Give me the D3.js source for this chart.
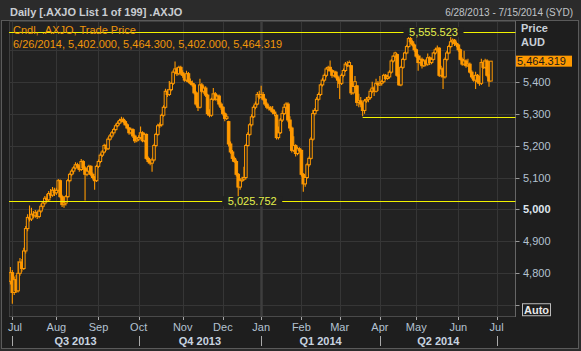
<!DOCTYPE html>
<html><head><meta charset="utf-8">
<script src="https://cdn.jsdelivr.net/npm/d3@7"></script>
<style>html,body{margin:0;padding:0;background:#2b2b2b;overflow:hidden}svg{display:block}</style>
</head><body><svg id="c" width="581" height="351"></svg>
<script>
const startDate = "2013-06-28", endDate = "2014-07-15";
const holidays = ["2013-12-25","2013-12-26","2014-01-01","2014-01-27","2014-04-18","2014-04-21","2014-04-25","2014-06-09"];

const opens = [4775,4802,4740,4780,4745,4800,4835,4815,4870,4940,4975,4970,4985,4980,4990,4978,4995,5010,5020,5035,5030,5050,5045,5060,
5052,5060,5090,5040,5015,5020,5040,5090,5110,5120,5130,5140,5135,5125,5150,5130,5110,5120,5135,5110,5100,5090,
5135,5150,5170,5180,5200,5190,5220,5230,5240,5250,5262,5270,5278,5282,5275,5265,5255,5240,5250,5230,5215,
5220,5225,5240,5215,5235,5160,5150,5145,5155,5200,5235,5262,5265,5295,5320,5370,5360,5375,5395,5430,5440,5425,5445,
5428,5420,5405,5425,5400,5395,5390,5365,5330,5320,5390,5370,5380,5358,5300,5295,5345,5362,5345,5355,5330,
5320,5300,5285,5275,5205,5180,5160,5150,5110,5070,5090,5095,5100,5200,5235,5265,5290,5320,5330,5360,
5352,5360,5345,5330,5320,5318,5312,5305,5295,5225,5240,5280,5300,5320,5330,5280,5255,5185,5200,5175,5190,
5185,5110,5080,5100,5140,5160,5220,5300,5310,5345,5360,5390,5405,5420,5440,5445,5435,5420,5430,5415,
5405,5395,5420,5435,5455,5450,5450,5365,5385,5387,5335,5340,5330,5310,5340,5345,5350,5370,5380,5370,5395,
5390,5395,5400,5420,5410,5415,5430,5465,5480,5485,5420,5390,5445,5470,5490,5510,5535,5525,5515,
5500,5480,5460,5470,5450,5465,5455,5475,5460,5470,5490,5500,5505,5420,5440,5415,5470,5490,5510,5525,5530,5520,
5515,5500,5470,5455,5465,5450,5455,5430,5415,5405,5420,5400,5395,5460,5445,5465,5420,5402];
const highs = [4820,4810,4790,4795,4838,4848,4845,4880,4948,4985,5012,5005,4995,4998,4996,5000,5018,5026,5042,5048,5058,5064,5070,5068,
5068,5095,5094,5046,5028,5045,5095,5115,5126,5135,5148,5146,5140,5158,5155,5135,5126,5140,5138,5116,5105,5140,
5156,5176,5186,5206,5205,5226,5236,5246,5256,5268,5276,5284,5290,5288,5280,5270,5258,5256,5254,5235,5226,
5232,5260,5245,5240,5238,5166,5158,5162,5206,5240,5268,5272,5300,5326,5378,5376,5402,5400,5436,5463,5446,5450,5450,
5436,5426,5434,5430,5410,5404,5396,5370,5336,5409,5396,5387,5386,5362,5314,5350,5380,5368,5360,5360,5336,
5324,5306,5298,5278,5213,5186,5166,5156,5114,5098,5102,5134,5206,5242,5270,5298,5326,5338,5368,5372,
5387,5368,5350,5336,5326,5324,5324,5312,5300,5260,5286,5310,5330,5336,5336,5292,5260,5229,5204,5196,5195,
5188,5114,5106,5146,5166,5226,5312,5318,5352,5366,5394,5412,5426,5446,5450,5466,5440,5436,5434,5420,
5410,5426,5441,5462,5464,5466,5452,5392,5418,5390,5362,5352,5336,5346,5352,5356,5377,5400,5386,5409,5402,
5418,5406,5425,5424,5422,5436,5470,5484,5494,5488,5424,5450,5475,5494,5516,5541,5555.523,5530,5520,
5504,5486,5482,5476,5470,5470,5488,5480,5476,5494,5506,5513,5508,5450,5445,5476,5497,5516,5544,5535,5534,5526,
5519,5504,5476,5497,5470,5472,5460,5436,5420,5431,5424,5418,5472,5466,5472,5470,5424,5464.3];
const lows = [4765,4705,4732,4738,4740,4792,4805,4810,4862,4932,4962,4964,4972,4974,4970,4972,4990,5002,5015,5022,5026,5036,5040,5042,
5045,5055,5035,5008,5005,5012,5036,5085,5104,5112,5125,5128,5118,5120,5125,5028,5104,5114,5104,5094,5062,5086,
5130,5145,5164,5175,5184,5186,5215,5224,5234,5245,5257,5265,5272,5270,5262,5250,5234,5235,5224,5208,5210,
5214,5220,5210,5210,5155,5144,5138,5118,5150,5195,5230,5255,5260,5290,5316,5352,5355,5370,5390,5424,5418,5420,5420,
5412,5400,5400,5396,5390,5384,5360,5325,5308,5316,5364,5362,5352,5294,5289,5290,5340,5340,5338,5322,5312,
5294,5276,5280,5197,5174,5150,5146,5103,5025.752,5062,5086,5090,5094,5196,5230,5260,5286,5314,5326,5345,
5348,5340,5324,5314,5310,5306,5298,5292,5219,5219,5236,5274,5296,5314,5273,5245,5178,5180,5166,5170,5178,
5103,5055,5071,5096,5134,5156,5215,5294,5306,5340,5355,5385,5400,5414,5432,5430,5412,5414,5410,5380,
5346,5390,5414,5430,5446,5445,5358,5360,5378,5324,5320,5320,5292,5300,5334,5336,5344,5364,5355,5366,5371,
5387,5388,5396,5405,5406,5410,5426,5460,5474,5415,5387,5386,5440,5466,5486,5506,5518,5510,5494,
5474,5434,5454,5441,5446,5448,5450,5452,5455,5466,5485,5494,5415,5414,5377,5410,5464,5486,5505,5516,5512,5508,
5494,5466,5450,5450,5444,5446,5426,5409,5400,5377,5394,5387,5390,5440,5440,5414,5384,5402];
const closes = [4802,4740,4780,4745,4800,4835,4815,4870,4940,4975,4970,4985,4980,4990,4978,4995,5010,5020,5035,5030,5050,5045,5060,5052,
5060,5090,5040,5015,5020,5040,5090,5110,5120,5130,5140,5135,5125,5150,5130,5110,5120,5135,5110,5100,5090,5135,
5150,5170,5180,5200,5190,5220,5230,5240,5250,5262,5270,5278,5282,5275,5265,5255,5240,5250,5230,5215,5220,
5225,5240,5215,5235,5160,5150,5145,5155,5200,5235,5262,5265,5295,5320,5370,5360,5375,5395,5430,5440,5425,5445,5428,
5420,5405,5425,5400,5395,5390,5365,5330,5320,5390,5370,5380,5358,5300,5295,5345,5362,5345,5355,5330,5320,
5300,5285,5290,5205,5180,5160,5150,5110,5070,5090,5095,5100,5200,5235,5265,5290,5320,5330,5360,5352,
5360,5345,5330,5320,5318,5312,5305,5300,5225,5240,5280,5300,5320,5330,5280,5255,5185,5200,5175,5190,5185,
5110,5080,5100,5140,5160,5220,5300,5310,5345,5360,5390,5405,5420,5440,5445,5435,5420,5430,5415,5405,
5395,5420,5435,5455,5450,5460,5365,5385,5400,5335,5340,5330,5310,5340,5345,5350,5370,5380,5370,5395,5390,
5395,5400,5420,5410,5415,5430,5465,5480,5490,5420,5390,5445,5470,5490,5510,5535,5525,5515,5500,
5480,5460,5470,5450,5465,5455,5475,5460,5470,5490,5500,5505,5420,5440,5415,5470,5490,5510,5525,5530,5520,5515,
5500,5470,5455,5465,5450,5455,5430,5415,5405,5420,5400,5395,5460,5445,5465,5420,5402,5464.319];

const yTicks = [4800, 4900, 5000, 5100, 5200, 5300, 5400];
const gridLevels = [4700, 4800, 4900, 5000, 5100, 5200, 5300, 5400, 5500];
const autoLevel = 4700;
const quarterLabels = ["Q3 2013", "Q4 2013", "Q1 2014", "Q2 2014"];
const maxLevel = 5555.523, minLevel = 5025.752, supportLevel = 5291, supportStart = "2014-03-19";
const lastClose = 5464.319;
const titleText = "Daily [.AXJO List 1 of 199] .AXJO";
const rangeText = "6/28/2013 - 7/15/2014 (SYD)";
const legend1 = "Cndl, .AXJO, Trade Price";
const legend2 = "6/26/2014, 5,402.000, 5,464.300, 5,402.000, 5,464.319";

const fmtD = d3.timeFormat("%Y-%m-%d");
const hol = new Set(holidays);
const allDays = d3.timeDay.range(new Date(2013,5,28), new Date(2014,6,16))
  .filter(d => d.getDay() > 0 && d.getDay() < 6 && !hol.has(fmtD(d)));
const dayKeys = allDays.map(fmtD);

const svg = d3.select("#c");
const FONT = "'Liberation Sans', Arial, sans-serif";
const L = 9, R = 515.5, T = 21, B = 316;
const ORANGE = "#ff9900";

const x = d3.scalePoint().domain(dayKeys).range([10.4, 515.8]);
const y = d3.scaleLinear().domain([4800, 5400]).range([273.3, 81.7]);

// backgrounds
svg.append("rect").attr("width",581).attr("height",351).attr("fill","#2b2b2b");
svg.append("rect").attr("x",1.5).attr("y",20.5).attr("width",577).attr("height",328)
  .attr("fill","#1e1e1e").attr("stroke","#5a5a5a").attr("stroke-width",1);
svg.append("rect").attr("x",L).attr("y",T).attr("width",R-L).attr("height",B-T).attr("fill","#222222");

// month boundaries
const monthIdx = [];
allDays.forEach((d,i)=>{ if(i>0 && d.getMonth()!==allDays[i-1].getMonth()) monthIdx.push(i); });
const gridG = svg.append("g");
gridG.selectAll("line.h").data(gridLevels).join("line")
  .attr("x1",L).attr("x2",R).attr("y1",d=>Math.round(y(d))+0.5).attr("y2",d=>Math.round(y(d))+0.5)
  .attr("stroke","#363636").attr("stroke-width",1);
gridG.selectAll("line.v").data(monthIdx).join("line")
  .attr("x1",i=>Math.round(x(dayKeys[i]))+0.5).attr("x2",i=>Math.round(x(dayKeys[i]))+0.5)
  .attr("y1",T).attr("y2",B)
  .attr("stroke",i=>allDays[i].getMonth()===0?"#3e3e3e":"#363636")
  .attr("stroke-width",i=>allDays[i].getMonth()===0?2.5:1);

// plot border
svg.append("path").attr("d",`M${L+0.5},${B}V${T+0.5}H${R}`).attr("fill","none").attr("stroke","#3e3e3e");
svg.append("line").attr("x1",L).attr("x2",R).attr("y1",B+0.5).attr("y2",B+0.5).attr("stroke","#4a4a4a");
svg.append("line").attr("x1",R).attr("x2",R).attr("y1",T).attr("y2",B+1).attr("stroke","#666");

// candles
svg.append("clipPath").attr("id","clip").append("rect").attr("x",L).attr("y",T).attr("width",R-L).attr("height",B-T);
const cg = svg.append("g").attr("clip-path","url(#clip)");
const candles = closes.map((c,i)=>({k:dayKeys[i],o:opens[i],h:highs[i],l:lows[i],c}));
cg.selectAll("line.w").data(candles).join("line")
  .attr("x1",d=>x(d.k)).attr("x2",d=>x(d.k))
  .attr("y1",d=>y(d.h)).attr("y2",d=>y(d.l))
  .attr("stroke",ORANGE).attr("stroke-width",1.1);
cg.selectAll("rect.b").data(candles).join("rect")
  .attr("x",d=>x(d.k)-1.3).attr("width",2.6)
  .attr("y",d=>y(Math.max(d.o,d.c))).attr("height",d=>Math.max(0.8,Math.abs(y(d.o)-y(d.c))))
  .attr("fill",d=>d.c>=d.o?"#222":ORANGE).attr("stroke",ORANGE).attr("stroke-width",1);

// level lines
const YEL = "#f2f200", YELT = "#e4f04c";
function levelLine(v, x1, labelCx){
  svg.append("line").attr("x1",x1).attr("x2",R).attr("y1",Math.round(y(v))+0.5).attr("y2",Math.round(y(v))+0.5)
    .attr("stroke",YEL).attr("stroke-width",1);
  if(labelCx!=null){
    const txt = d3.format(",.3f")(v);
    svg.append("rect").attr("x",labelCx-30).attr("y",y(v)-5).attr("width",60).attr("height",10).attr("fill","#222");
    svg.append("text").attr("x",labelCx).attr("y",y(v)+4).attr("text-anchor","middle")
      .attr("font-family",FONT).attr("font-size",11).attr("fill",YELT).text(txt);
  }
}
const maxIdx = highs.indexOf(d3.max(highs));
const minIdx = lows.indexOf(d3.min(lows.slice(60)) );
levelLine(maxLevel, L, x(dayKeys[maxIdx]) + 23);
levelLine(minLevel, L, x(dayKeys[minIdx]) + 14);
levelLine(supportLevel, x(supportStart), null);

// legend
svg.append("text").attr("x",13).attr("y",34).attr("font-family",FONT).attr("font-size",11).attr("fill","#f0960a").text(legend1);
svg.append("text").attr("x",13).attr("y",47.5).attr("font-family",FONT).attr("font-size",11).attr("fill","#f0960a").text(legend2);

// header
svg.append("text").attr("x",10).attr("y",16).attr("font-family",FONT).attr("font-size",11).attr("font-weight","bold").attr("fill","#c9cdd2").text(titleText);
svg.append("text").attr("x",573).attr("y",16).attr("text-anchor","end").attr("font-family",FONT).attr("font-size",10).attr("fill","#c0c4c8").text(rangeText);

// right axis
svg.append("text").attr("x",521).attr("y",32).attr("font-family",FONT).attr("font-size",11).attr("font-weight","bold").attr("fill","#c8d0d8").text("Price");
svg.append("text").attr("x",521).attr("y",46).attr("font-family",FONT).attr("font-size",11).attr("font-weight","bold").attr("fill","#c8d0d8").text("AUD");
const ax = svg.append("g");
ax.selectAll("line").data(yTicks.concat([autoLevel])).join("line")
  .attr("x1",R).attr("x2",R+4).attr("y1",d=>Math.round(y(d))+0.5).attr("y2",d=>Math.round(y(d))+0.5).attr("stroke","#999");
ax.selectAll("text").data(yTicks).join("text")
  .attr("x",523).attr("y",d=>y(d)+4).attr("font-family",FONT).attr("font-size",11)
  .attr("font-weight",d=>d===5000?"bold":"normal")
  .attr("fill",d=>d===5000?"#dfe6ee":"#b4c2d2").text(d=>d3.format(",")(d));
svg.append("rect").attr("x",516).attr("y",y(lastClose)-5.5).attr("width",56).attr("height",11).attr("fill",ORANGE);
svg.append("text").attr("x",517).attr("y",y(lastClose)+4).attr("font-family",FONT).attr("font-size",11).attr("fill","#1a1a1a").text(d3.format(",.3f")(lastClose));
svg.append("rect").attr("x",522.5).attr("y",y(autoLevel)-1.5).attr("width",28).attr("height",12).attr("fill","#1e1e1e").attr("stroke","#bbb");
svg.append("text").attr("x",524).attr("y",y(autoLevel)+8.5).attr("font-family",FONT).attr("font-size",11).attr("font-weight","bold").attr("fill","#e8e8e8").text("Auto");

// bottom axis
const bx = svg.append("g");
bx.selectAll("line").data(monthIdx).join("line")
  .attr("x1",i=>Math.round(x(dayKeys[i]))+0.5).attr("x2",i=>Math.round(x(dayKeys[i]))+0.5)
  .attr("y1",B+1).attr("y2",B+4).attr("stroke","#aaa");
const fmtM = d3.timeFormat("%b");
bx.selectAll("text").data(monthIdx).join("text")
  .attr("x",i=>Math.max(x(dayKeys[i]), 15)).attr("y",331).attr("text-anchor","middle")
  .attr("font-family",FONT).attr("font-size",11).attr("fill","#b4c2d2").text(i=>fmtM(allDays[i]));
const qIdx = monthIdx.filter(i=>allDays[i].getMonth()%3===0);
bx.selectAll("line.q").data(qIdx).join("line")
  .attr("x1",i=>Math.round(x(dayKeys[i]))+0.5).attr("x2",i=>Math.round(x(dayKeys[i]))+0.5)
  .attr("y1",336).attr("y2",346).attr("stroke","#aaa");
bx.selectAll("text.q").data(quarterLabels).join("text")
  .attr("x",(d,j)=>(x(dayKeys[qIdx[j]])+x(dayKeys[qIdx[j+1]]))/2).attr("y",344.5).attr("text-anchor","middle")
  .attr("font-family",FONT).attr("font-size",11).attr("font-weight","bold").attr("fill","#c8d4e0").text(d=>d);
</script></body></html>
